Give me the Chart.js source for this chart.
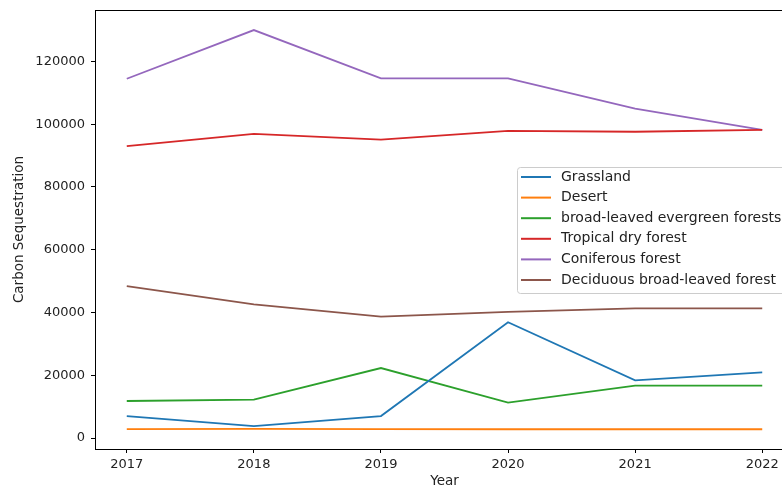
<!DOCTYPE html>
<html lang="en">
<head>
  <meta charset="UTF-8">
  <title>Carbon Sequestration</title>
  <script src="https://cdn.jsdelivr.net/npm/chart.js"></script>
  <style>
    html, body { margin: 0; padding: 0; overflow: hidden; background: #fff; }
    #wrap { width: 782px; height: 490px; overflow: hidden; }
  </style>
</head>
<body>
  <div id="wrap"><canvas id="grafico" width="800" height="490"></canvas></div>

  <script>
    const anos = [2017, 2018, 2019, 2020, 2021, 2022];
    const yTicks = [0, 20000, 40000, 60000, 80000, 100000, 120000];

    const grassland = [7000, 3800, 7000, 36900, 18400, 20950];
    const desert = [2850, 2900, 2850, 2800, 2800, 2800];
    const evergreen = [11800, 12250, 22300, 11300, 16700, 16700];
    const tropicalDry = [93000, 96900, 95100, 97900, 97600, 98200];
    const coniferous = [114500, 130000, 114600, 114600, 105000, 98200];
    const deciduous = [48400, 42600, 38700, 40200, 41300, 41300];

    const nomes = ['Grassland', 'Desert', 'broad-leaved evergreen forests',
      'Tropical dry forest', 'Coniferous forest', 'Deciduous broad-leaved forest'];
    const series = [grassland, desert, evergreen, tropicalDry, coniferous, deciduous];
    const cores = ['#1f77b4', '#ff7f0e', '#2ca02c', '#d62728', '#9467bd', '#8c564b'];

    const fonte = 'DejaVu Sans';

    // moldura e legenda no estilo matplotlib
    const extras = {
      id: 'extras',
      afterDraw(chart) {
        const ctx = chart.ctx;
        const a = chart.chartArea;
        ctx.save();
        ctx.strokeStyle = '#000';
        ctx.lineWidth = 1;
        ctx.strokeRect(a.left + 0.5, a.top + 0.5, a.right - a.left, a.bottom - a.top);

        const x0 = 517, y0 = 167, w = 290, h = 126;
        ctx.fillStyle = 'rgba(255,255,255,0.8)';
        ctx.strokeStyle = '#cccccc';
        ctx.beginPath();
        ctx.roundRect(x0 + 0.5, y0 + 0.5, w, h, 3);
        ctx.fill();
        ctx.stroke();

        ctx.font = '14px "' + fonte + '"';
        ctx.textBaseline = 'middle';
        ctx.fillStyle = '#222';
        chart.data.datasets.forEach((ds, i) => {
          const y = 177 + i * 20.6;
          ctx.strokeStyle = ds.borderColor;
          ctx.lineWidth = 2;
          ctx.beginPath();
          ctx.moveTo(521, y);
          ctx.lineTo(551, y);
          ctx.stroke();
          ctx.fillText(ds.label, 561, y);
        });
        ctx.restore();
      }
    };

    new Chart(document.getElementById('grafico').getContext('2d'), {
      type: 'line',
      data: {
        datasets: series.map((s, i) => ({
          label: nomes[i],
          data: s.map((v, j) => ({ x: anos[j], y: v })),
          borderColor: cores[i],
          backgroundColor: cores[i],
          borderWidth: 1.8,
          pointRadius: 0,
          tension: 0,
          fill: false
        }))
      },
      options: {
        responsive: false,
        animation: false,
        layout: { padding: { left: 0, top: 10, right: 6, bottom: 0 } },
        plugins: {
          legend: { display: false },
          tooltip: { enabled: false }
        },
        scales: {
          x: {
            type: 'linear',
            min: 2016.75,
            max: 2022.25,
            afterBuildTicks: s => { s.ticks = anos.map(v => ({ value: v })); },
            afterFit: s => { s.height = 41; s.paddingLeft = 0; s.paddingRight = 0; },
            grid: { drawOnChartArea: false, drawTicks: true, tickLength: 4, color: '#000' },
            border: { display: true, color: '#000' },
            ticks: { padding: 4, color: '#222', font: { family: fonte, size: 13 }, callback: v => String(v) },
            title: { display: true, text: 'Year', color: '#222', font: { family: fonte, size: 13.5 }, padding: 0 }
          },
          y: {
            min: -3500,
            max: 136400,
            afterBuildTicks: s => { s.ticks = yTicks.map(v => ({ value: v })); },
            afterFit: s => { s.width = 95; s.paddingTop = 0; s.paddingBottom = 0; },
            grid: { drawOnChartArea: false, drawTicks: true, tickLength: 4, color: '#000' },
            border: { display: true, color: '#000' },
            ticks: { padding: 6, color: '#222', font: { family: fonte, size: 13 }, callback: v => String(v) },
            title: { display: true, text: 'Carbon Sequestration', color: '#222', font: { family: fonte, size: 13.5 }, padding: { top: 11 } }
          }
        }
      },
      plugins: [extras]
    });
  </script>
</body>
</html>
